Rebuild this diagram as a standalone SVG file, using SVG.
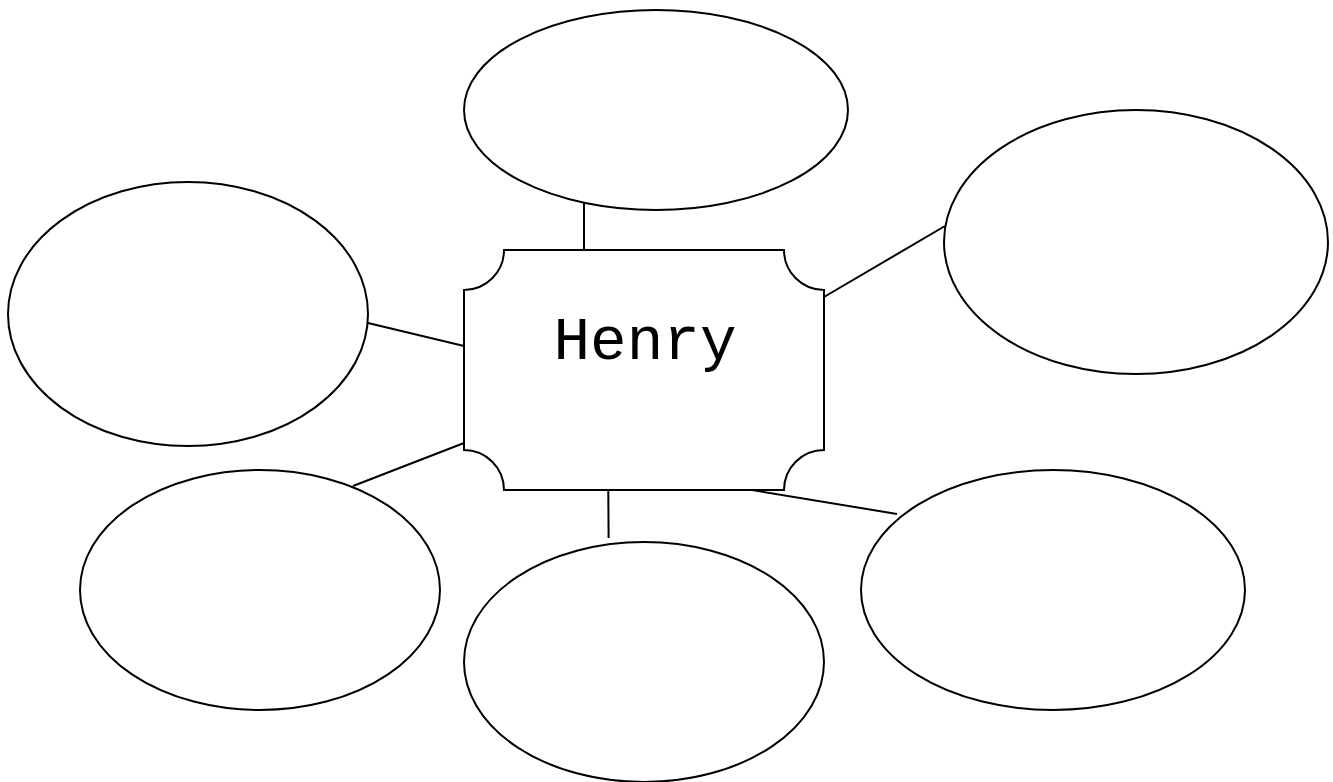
<svg xmlns="http://www.w3.org/2000/svg" width="1333" height="782" viewBox="0 0 1333 782">
<style>
.n{fill:#ffffff;stroke:#000000;stroke-width:2}
.c line{stroke:#000000;stroke-width:2}
.t{font-family:"Courier New","Nimbus Mono PS","FreeMono","Liberation Mono",monospace;font-size:61px;fill:#000000}
</style>
<rect width="1333" height="782" fill="#ffffff"/>
<g id="connectors" class="c">
<line x1="584" y1="203" x2="584" y2="250"/>
<line x1="824" y1="297" x2="945" y2="226"/>
<line x1="368" y1="323" x2="464" y2="346"/>
<line x1="353" y1="486" x2="464" y2="443"/>
<line x1="608.3" y1="490" x2="608.6" y2="538"/>
<line x1="752" y1="490" x2="897" y2="514"/>
</g>
<g id="node-top"><ellipse class="n" cx="656" cy="110" rx="192" ry="100"/></g>
<g id="node-right"><ellipse class="n" cx="1136" cy="242" rx="192" ry="132"/></g>
<g id="node-left"><ellipse class="n" cx="188" cy="314" rx="180" ry="132"/></g>
<g id="node-bottom-left"><ellipse class="n" cx="260" cy="590" rx="180" ry="120"/></g>
<g id="node-bottom"><ellipse class="n" cx="644" cy="662" rx="180" ry="120"/></g>
<g id="node-bottom-right"><ellipse class="n" cx="1053" cy="590" rx="192" ry="120"/></g>
<g id="node-henry">
<path class="n" d="M504,250 H784 A40,40 0 0 0 824,290 V450 A40,40 0 0 0 784,490 H504 A40,40 0 0 0 464,450 V290 A40,40 0 0 0 504,250 Z"/>
<text class="t" x="645" y="359" text-anchor="middle">Henry</text>
</g>
</svg>
